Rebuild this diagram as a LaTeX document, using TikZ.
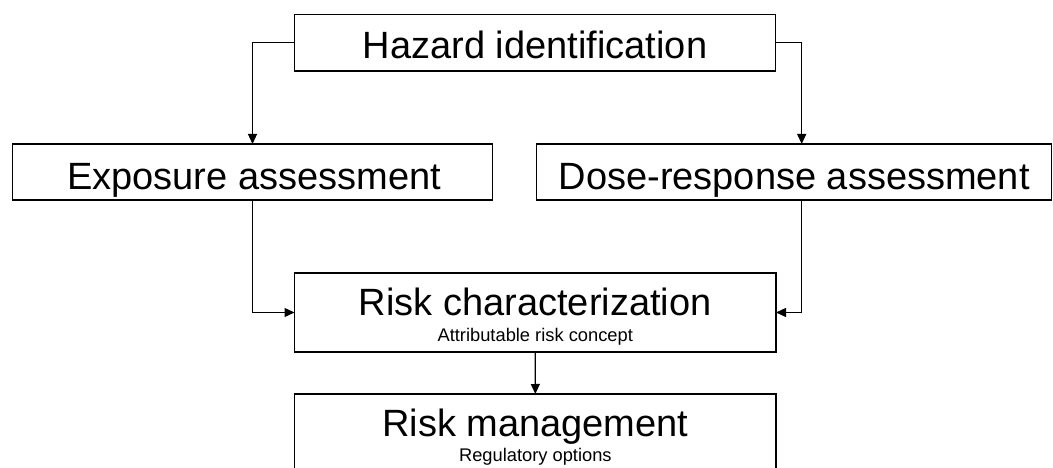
\documentclass[tikz,border=0pt]{standalone}
\usepackage{fontspec}
\setmainfont{Liberation Sans}
\usetikzlibrary{arrows.meta}
\begin{document}
\begin{tikzpicture}[x=1pt,y=-1pt,
  box/.style={draw, line width=1.2pt, inner sep=0pt, outer sep=0pt},
  big/.style={font=\fontsize{38}{40}\selectfont, anchor=base, inner sep=0pt},
  small/.style={font=\fontsize{18.3}{20}\selectfont, anchor=base, inner sep=0pt},
  conn/.style={line width=1.2pt, -{Triangle[length=10pt,width=9pt]}}]
\useasboundingbox (0,0) rectangle (1053,468);
\clip (0,0) rectangle (1053,468);
% boxes
\node[box, minimum width=481.2pt, minimum height=56.3pt] (hz) at (535.1,42.85) {};
\node[box, minimum width=480.4pt, minimum height=56pt] (ex) at (252.5,172) {};
\node[box, minimum width=515pt, minimum height=56pt] (ds) at (794.2,172) {};
\node[box, minimum width=481.5pt, minimum height=79pt] (rc) at (535.25,312.5) {};
\node[box, minimum width=481.3pt, minimum height=79pt] (rm) at (535.35,433.5) {};
% texts
\node[big] (hzt) at (535.1,58.3) {Hazard identification};
\node[big] (ext) at (254,189.3) {Exposure assessment};
\node[big] (dst) at (794.2,189.3) {Dose-response assessment};
\node[big] (rct) at (535.25,315) {Risk characterization};
\node[small] (rcs) at (535.25,341.7) {Attributable risk concept};
\node[big] (rmt) at (535.35,436.7) {Risk management};
\node[small] (rms) at (535.35,461.7) {Regulatory options};
% connector helper points
\coordinate (dsTop) at (801.7,144);
\coordinate (dsBot) at (801.7,200);
% connectors
\draw[conn] (hz.west) -| (ex.north);
\draw[conn] (hz.east) -| (dsTop);
\draw[conn] (ex.south) |- (rc.west);
\draw[conn] (dsBot) |- (rc.east);
\draw[conn] (rc.south) -- (rm.north);
\end{tikzpicture}
\end{document}
